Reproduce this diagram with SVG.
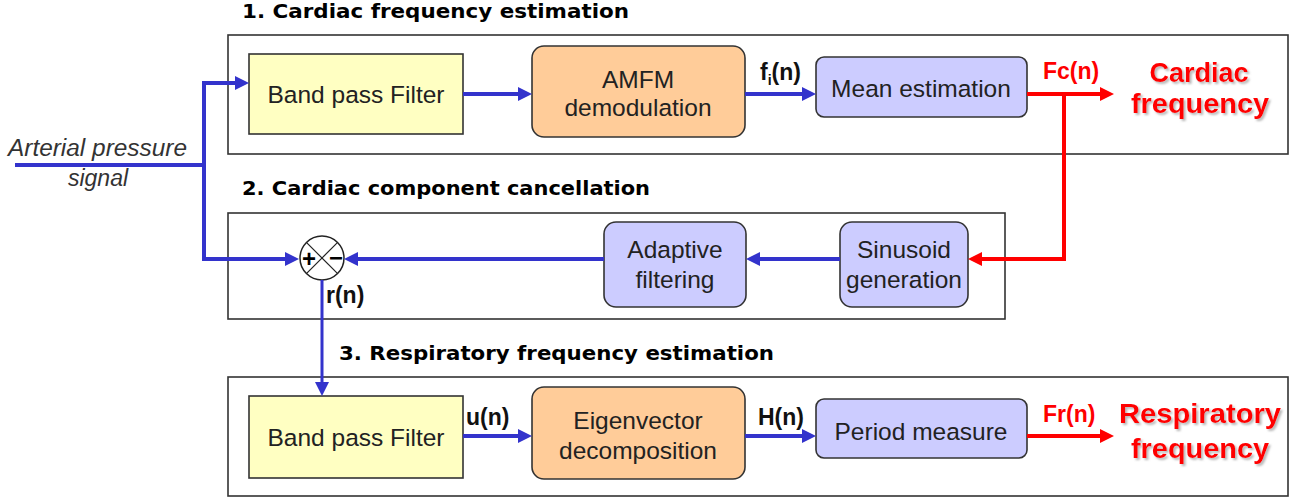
<svg xmlns="http://www.w3.org/2000/svg" width="1309" height="499" viewBox="0 0 1309 499">
<defs>
<style>
.frame{fill:none;stroke:#333;stroke-width:1.6}
.yel{fill:#FFFFC2;stroke:#333;stroke-width:1.6}
.org{fill:#FFCC99;stroke:#333;stroke-width:1.6}
.lav{fill:#CCCCFF;stroke:#333;stroke-width:1.6}
.lbl{font-family:"Liberation Sans",Arial,sans-serif;font-size:24.5px;fill:#222;text-anchor:middle}
.sig{font-family:"Liberation Sans",Arial,sans-serif;font-size:23px;font-weight:bold;fill:#111}
.red{font-family:"Liberation Sans",Arial,sans-serif;font-size:23px;font-weight:bold;fill:#FF0000}
.big{font-family:"Liberation Sans",Arial,sans-serif;font-size:27px;font-weight:bold;fill:#FF0000;text-anchor:middle;filter:url(#sh)}
.ttl{font-family:"DejaVu Sans",Verdana,sans-serif;font-size:19px;font-weight:bold;fill:#000}
.it{font-family:"Liberation Sans",Arial,sans-serif;font-size:23px;font-style:italic;fill:#333}
.bl{fill:none;stroke:#3333CC;stroke-width:4}
.rd{fill:none;stroke:#FF0000;stroke-width:4}
.sym{font-family:"Liberation Sans",Arial,sans-serif;font-size:24px;font-weight:bold;fill:#000;text-anchor:middle}
</style>
<marker id="ab" markerWidth="14" markerHeight="14" refX="8" refY="7" orient="auto" markerUnits="userSpaceOnUse"><path d="M0,0 L14,7 L0,14 z" fill="#3333CC"/></marker>
<marker id="ar" markerWidth="14" markerHeight="14" refX="8" refY="7" orient="auto" markerUnits="userSpaceOnUse"><path d="M0,0 L14,7 L0,14 z" fill="#FF0000"/></marker>
<filter id="sh" x="-10%" y="-20%" width="130%" height="160%"><feDropShadow dx="2" dy="2" stdDeviation="1" flood-color="#888" flood-opacity="0.6"/></filter>
</defs>
<rect width="1309" height="499" fill="#fff"/>

<g id="section1">
<text class="ttl" x="242" y="18" textLength="387" lengthAdjust="spacingAndGlyphs">1. Cardiac frequency estimation</text>
<rect class="frame" x="228" y="35" width="1060" height="119"/>
</g>
<g id="section2">
<text class="ttl" x="242" y="195" textLength="408" lengthAdjust="spacingAndGlyphs">2. Cardiac component cancellation</text>
<rect class="frame" x="228" y="213" width="777" height="106"/>
</g>
<g id="section3">
<text class="ttl" x="339" y="360" textLength="435" lengthAdjust="spacingAndGlyphs">3. Respiratory frequency estimation</text>
<rect class="frame" x="228" y="377" width="1060" height="119"/>
</g>

<g id="input-label">
<text class="it" x="8" y="156" textLength="179" lengthAdjust="spacingAndGlyphs">Arterial pressure</text>
<text class="it" x="98" y="186" text-anchor="middle">signal</text>
</g>

<g id="bpf1"><rect class="yel" x="249" y="54" width="214" height="80"/><text class="lbl" x="356" y="103">Band pass Filter</text></g>
<g id="amfm"><rect class="org" x="532" y="46" width="213" height="91" rx="12"/><text class="lbl" x="638" y="88">AMFM</text><text class="lbl" x="638" y="116">demodulation</text></g>
<g id="mean"><rect class="lav" x="816" y="57" width="211" height="60" rx="8"/><text class="lbl" x="921" y="97">Mean estimation</text></g>
<g id="cardiac-out"><text class="big" x="1199" y="82">Cardiac</text><text class="big" x="1200" y="113" textLength="138" lengthAdjust="spacingAndGlyphs">frequency</text></g>

<g id="summer">
<circle cx="322" cy="258" r="22" fill="#fff" stroke="#222" stroke-width="1.5"/>
<line x1="306.4" y1="242.4" x2="337.6" y2="273.6" stroke="#222" stroke-width="1.2"/>
<line x1="337.6" y1="242.4" x2="306.4" y2="273.6" stroke="#222" stroke-width="1.2"/>
<text class="sym" x="309" y="267">+</text>
<text class="sym" x="336" y="266">−</text>
</g>
<g id="adaptive"><rect class="lav" x="604" y="222" width="142" height="85" rx="12"/><text class="lbl" x="675" y="258">Adaptive</text><text class="lbl" x="675" y="288">filtering</text></g>
<g id="sinusoid"><rect class="lav" x="840" y="222" width="128" height="85" rx="12"/><text class="lbl" x="904" y="258">Sinusoid</text><text class="lbl" x="904" y="288">generation</text></g>

<g id="bpf2"><rect class="yel" x="249" y="396" width="214" height="82"/><text class="lbl" x="356" y="446">Band pass Filter</text></g>
<g id="eigen"><rect class="org" x="532" y="387" width="213" height="92" rx="12"/><text class="lbl" x="638" y="429">Eigenvector</text><text class="lbl" x="638" y="459">decomposition</text></g>
<g id="period"><rect class="lav" x="816" y="399" width="211" height="59" rx="8"/><text class="lbl" x="921" y="440">Period measure</text></g>
<g id="resp-out"><text class="big" x="1200" y="423" textLength="162" lengthAdjust="spacingAndGlyphs">Respiratory</text><text class="big" x="1200" y="458" textLength="138" lengthAdjust="spacingAndGlyphs">frequency</text></g>

<g id="connectors">
<path class="bl" d="M15,165 H204"/>
<path class="bl" d="M204,165 V83 H243" marker-end="url(#ab)"/>
<path class="bl" d="M204,165 V259 H293" marker-end="url(#ab)"/>
<path class="bl" d="M463,94 H526" marker-end="url(#ab)"/>
<path class="bl" d="M745,94 H810" marker-end="url(#ab)"/>
<path class="rd" d="M1027,94 H1108" marker-end="url(#ar)"/>
<path class="rd" d="M1064,94 V259 H974" marker-end="url(#ar)"/>
<path class="bl" d="M840,259 H752" marker-end="url(#ab)"/>
<path class="bl" d="M604,259 H350" marker-end="url(#ab)"/>
<path class="bl" d="M322,280 V390" marker-end="url(#ab)" style="stroke-width:3"/>
<path class="bl" d="M463,436 H526" marker-end="url(#ab)"/>
<path class="bl" d="M745,436 H810" marker-end="url(#ab)"/>
<path class="rd" d="M1027,436 H1108" marker-end="url(#ar)"/>
</g>

<g id="signal-labels">
<text class="sig" x="760" y="80">f<tspan font-size="14" dy="5">i</tspan><tspan dy="-5">(n)</tspan></text>
<text class="red" x="1043" y="79">Fc(n)</text>
<text class="sig" x="326" y="303">r(n)</text>
<text class="sig" x="466" y="425">u(n)</text>
<text class="sig" x="758" y="425">H(n)</text>
<text class="red" x="1043" y="422">Fr(n)</text>
</g>
</svg>
